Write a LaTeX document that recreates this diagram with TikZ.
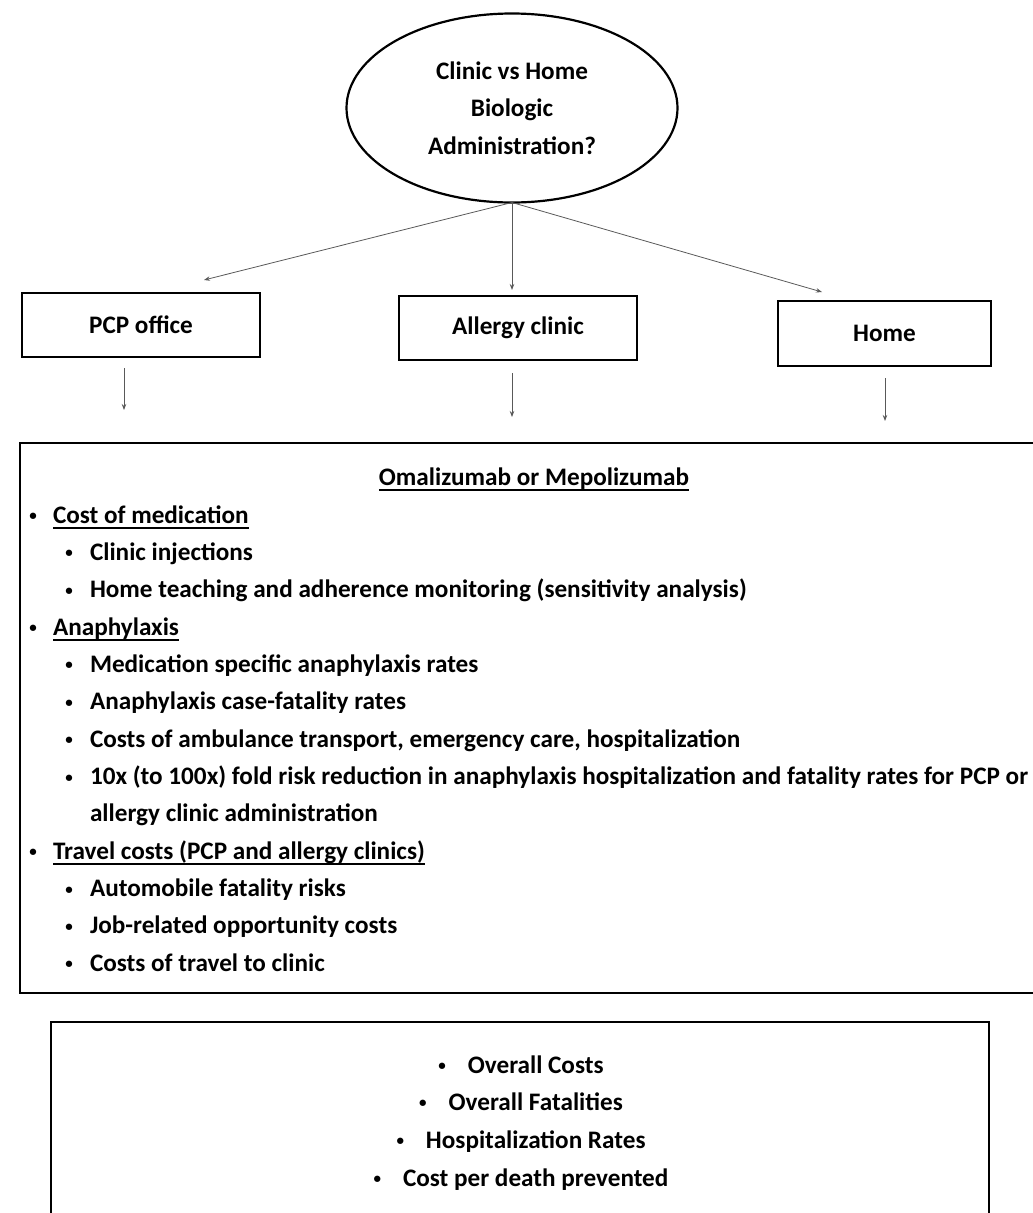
\documentclass[tikz,border=0pt]{standalone}
\usepackage{fontspec}
\setmainfont{Carlito}
\usetikzlibrary{arrows.meta,shapes.geometric}
\newcommand\myul[1]{\setbox0\hbox{#1}\rlap{\rule[-5.5pt]{\wd0}{1.8pt}}\box0}
\newcommand\bu{\raisebox{2.5pt}{\fontsize{15}{15}\selectfont •}}
\begin{document}
\begin{tikzpicture}[x=1pt,y=-1pt,
  txt/.style={font=\fontsize{25.2}{37.35}\selectfont\bfseries, inner sep=0pt, outer sep=0pt},
  frame/.style={draw=black, line width=2.2pt, inner sep=0pt, outer sep=0pt},
  arr/.style={draw=black!65, line width=0.8pt, -{Stealth[length=6pt,width=4.5pt]}},
  bul/.style={txt, anchor=base},
  item/.style={txt, anchor=base west}]
\useasboundingbox (0,0) rectangle (1033,1213);
% question ellipse
\node (q) [ellipse, frame, txt, align=center, minimum width=331pt, minimum height=189pt] at (512,108) {Clinic vs Home\\Biologic\\Administration?};
% three settings
\node (pcp) [frame, txt, minimum width=238pt, minimum height=64pt] at (141,325) {PCP office};
\node (all) [frame, txt, minimum width=238pt, minimum height=64pt] at (518,328) {Allergy clinic};
\node (home) [frame, txt, minimum width=213pt, minimum height=65pt] at (884.5,333.5) {Home};
% arrow ends
\coordinate (pcpin) at (204,280);
\coordinate (allin) at (512,290);
\coordinate (homein) at (822,292);
\coordinate (pcpout) at (124,410);
\coordinate (allout) at (512,417);
\coordinate (homeout) at (885,421);
\draw[arr] (q.south) -- (pcpin);
\draw[arr] (q.south) -- (allin);
\draw[arr] (q.south) -- (homein);
\draw[arr, shorten <=11pt] (pcp.south -| pcpout) -- (pcpout);
\draw[arr, shorten <=13pt] (all.south -| allout) -- (allout);
\draw[arr, shorten <=12pt] (home.south -| homeout) -- (homeout);
% factors box
\node (big) [frame, anchor=north west, minimum width=1030pt, minimum height=550pt] at (20,443) {};
\node (title) [bul] at (534,485) {\myul{Omalizumab or Mepolizumab}};
\node (b1) [bul] at (33,523) {\bu};      \node (t1) [item] at (53,523) {\myul{Cost of medication}};
\node (b2) [bul] at (69,560.4) {\bu};    \node (t2) [item] at (90,560.4) {Clinic injections};
\node (b3) [bul] at (69,597.7) {\bu};    \node (t3) [item] at (90,597.7) {Home teaching and adherence monitoring (sensitivity analysis)};
\node (b4) [bul] at (33,635) {\bu};      \node (t4) [item] at (53,635) {\myul{Anaphylaxis}};
\node (b5) [bul] at (69,672.4) {\bu};    \node (t5) [item] at (90,672.4) {Medication specific anaphylaxis rates};
\node (b6) [bul] at (69,709.8) {\bu};    \node (t6) [item] at (90,709.8) {Anaphylaxis case-fatality rates};
\node (b7) [bul] at (69,747) {\bu};      \node (t7) [item] at (90,747) {Costs of ambulance transport, emergency care, hospitalization};
\node (b8) [bul] at (69,784.5) {\bu};    \node (t8) [item] at (90,784.5) {10x (to 100x) fold risk reduction in anaphylaxis hospitalization and fatality rates for PCP or};
\node (t9) [item] at (90,821.8) {allergy clinic administration};
\node (b10) [bul] at (33,859) {\bu};     \node (t10) [item] at (53,859) {\myul{Travel costs (PCP and allergy clinics)}};
\node (b11) [bul] at (69,896.5) {\bu};   \node (t11) [item] at (90,896.5) {Automobile fatality risks};
\node (b12) [bul] at (69,933.9) {\bu};   \node (t12) [item] at (90,933.9) {Job-related opportunity costs};
\node (b13) [bul] at (69,971.2) {\bu};   \node (t13) [item] at (90,971.2) {Costs of travel to clinic};
% outcomes box
\node (out) [frame, anchor=north west, minimum width=938pt, minimum height=260pt] at (51,1022) {};
\node (o1) [bul] at (521,1073) {\bu\hspace{22pt}Overall Costs};
\node (o2) [bul] at (521,1110) {\bu\hspace{22pt}Overall Fatalities};
\node (o3) [bul] at (521,1148) {\bu\hspace{22pt}Hospitalization Rates};
\node (o4) [bul] at (521,1186) {\bu\hspace{22pt}Cost per death prevented};
\end{tikzpicture}
\end{document}
